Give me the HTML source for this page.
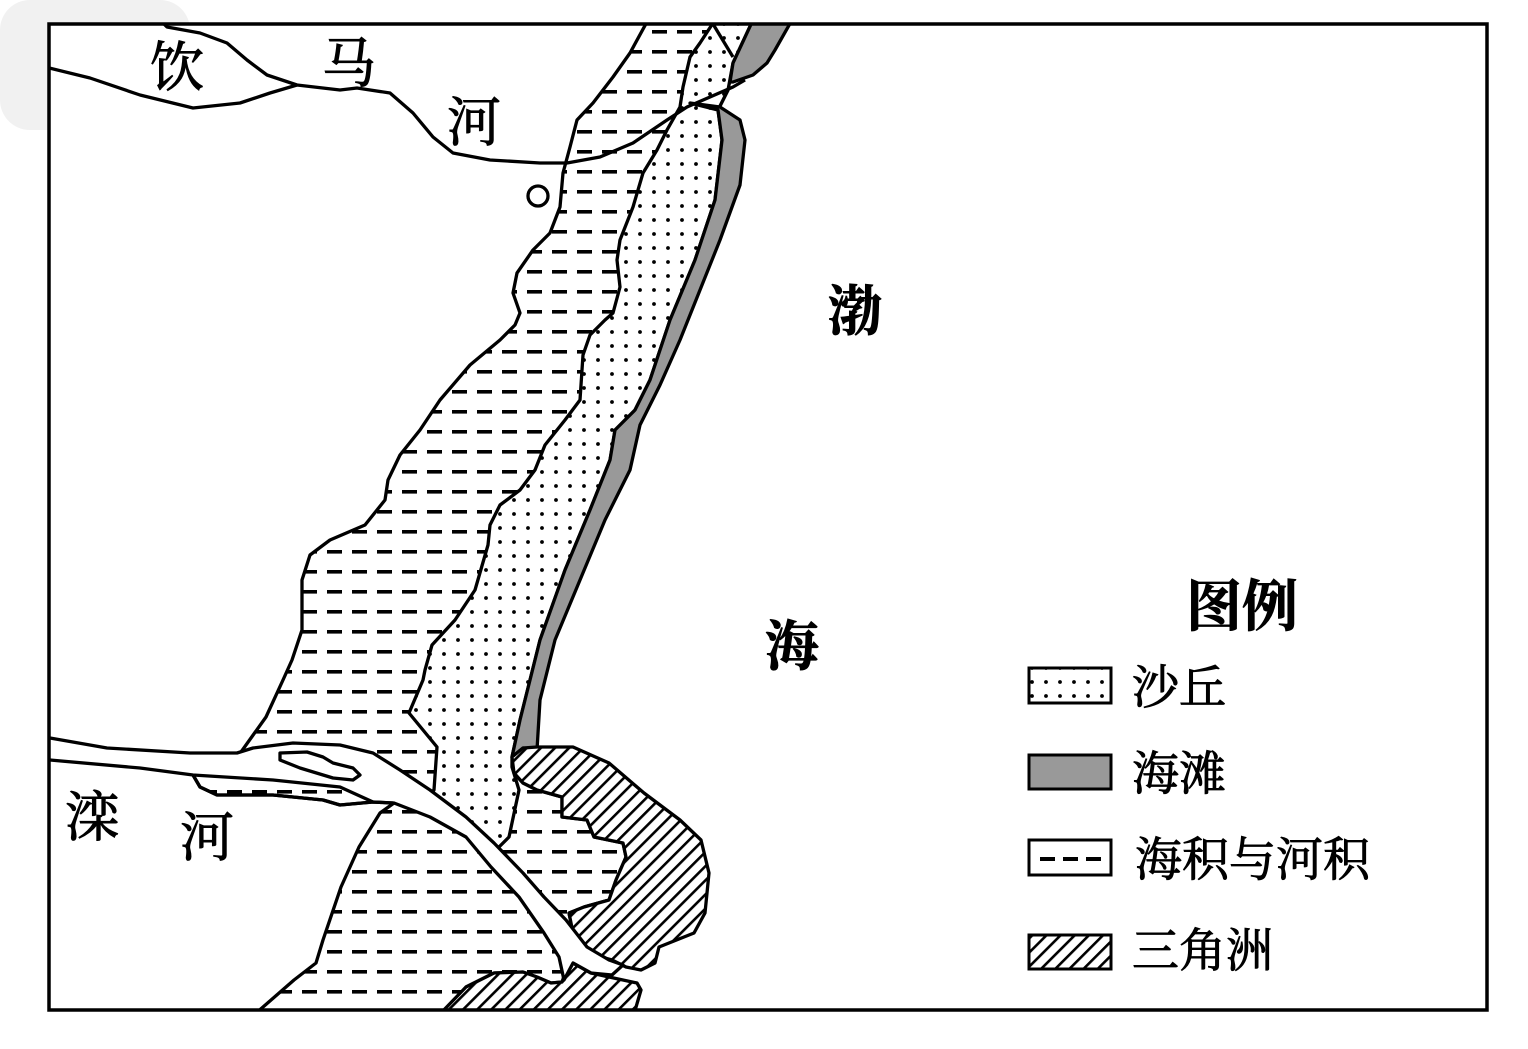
<!DOCTYPE html>
<html><head><meta charset="utf-8"><style>
html,body{margin:0;padding:0;background:#fff;}
svg{display:block;}
text{font-family:"Liberation Serif","Noto Serif CJK SC",serif;fill:#000;}
</style></head><body>
<svg width="1528" height="1049" viewBox="0 0 1528 1049" xmlns="http://www.w3.org/2000/svg">
<defs>
<pattern id="dash" width="25" height="20" patternUnits="userSpaceOnUse" x="2" y="2">
<rect x="0" y="0" width="25" height="20" fill="#fff"/>
<rect x="0" y="8" width="15" height="3.6" fill="#000"/></pattern>
<pattern id="dot" width="14" height="14" patternUnits="userSpaceOnUse" x="3" y="3">
<rect x="0" y="0" width="14" height="14" fill="#fff"/>
<circle cx="7" cy="7" r="1.9" fill="#000"/></pattern>
<pattern id="hatch" width="10" height="10" patternUnits="userSpaceOnUse" patternTransform="rotate(45)">
<rect x="0" y="0" width="10" height="10" fill="#fff"/><rect x="0" y="0" width="2.6" height="10" fill="#000"/></pattern>
<clipPath id="fr"><rect x="49" y="24" width="1438" height="986"/></clipPath>
</defs>
<rect width="1528" height="1049" fill="#fff"/>
<rect x="0" y="0" width="190" height="130" rx="30" fill="#f1f1f1"/>
<g clip-path="url(#fr)" stroke="#000" stroke-width="3.3" stroke-linejoin="round">
<rect x="49" y="24" width="1438" height="986" fill="#fff" stroke="none"/>
<polygon fill="url(#dash)" points="648,20 630,53 613,77 593,103 577,120 570,147 563,173 560,207 550,233 533,250 517,273 513,293 520,313 515,325 500,340 470,365 440,400 420,430 400,455 388,480 385,500 365,525 330,540 310,555 302,580 302,630 292,660 283,680 266,717 241,752 190,770 193,775 200,787 217,795 273,795 323,800 340,805 373,802 394,803 380,813 359,847 341,887 323,940 316,963 294,980 255,1014 444,1014 466,987 494,973 523,972 537,977 551,983 562,982 570,960 573,933 569,913 584,907 609,900 616,880 626,857 623,843 594,837 587,820 562,817 562,797 537,790 523,783 514,773 512,757 520,720 540,640 565,570 590,510 610,460 615,430 635,410 650,380 670,320 695,260 715,200 722,140 718,110 728,90 733,63 753,20"/>
<polygon fill="url(#dot)" points="715,20 700,43 690,57 683,87 680,107 667,130 657,150 643,173 633,207 620,240 617,260 620,287 613,313 605,320 590,335 583,355 580,400 565,420 545,445 535,470 520,490 500,505 490,525 488,545 475,590 455,620 432,645 425,670 423,680 409,713 437,747 434,790 430,793 466,820 498,848 509,837 519,790 512,767 512,757 520,720 540,640 565,570 590,510 610,460 615,430 635,410 650,380 670,320 695,260 715,200 722,140 718,110 728,90 733,63 753,20"/>
<path d="M713,24 L733,57" fill="none"/>
<polygon fill="#999" points="690,103 720,107 740,120 745,140 740,185 720,240 700,290 680,340 660,385 640,425 630,470 605,520 580,580 555,640 540,700 537,750 523,748 512,757 520,720 540,640 565,570 590,510 610,460 615,430 635,410 650,380 670,320 695,260 715,200 722,140 718,110"/>
<polygon fill="#999" points="753,20 792,20 775,50 767,63 753,75 733,82 730,82 733,63"/>
<polygon fill="url(#hatch)" points="512,757 523,748 537,747 573,747 609,763 644,793 680,820 701,840 709,873 705,913 694,933 659,947 655,963 641,970 626,967 612,960 587,953 573,933 569,913 584,907 609,900 616,880 626,857 623,843 594,837 587,820 562,817 562,797 537,790 523,783 514,773"/>
<polygon fill="url(#hatch)" points="440,1014 466,987 494,973 523,972 537,977 551,983 562,982 573,963 591,973 609,977 637,983 641,990 634,1014"/>
<polygon fill="#fff" points="40,737 50,738 107,748 190,753 237,753 253,748 293,743 340,745 373,753 400,770 430,790 466,817 494,843 523,873 544,897 566,920 587,947 609,960 623,965 612,975 591,973 573,963 564,980 559,957 544,933 519,897 491,867 466,837 430,817 394,803 373,802 340,787 273,780 193,775 140,768 50,760 40,760"/>
<polygon fill="#fff" points="280,753 307,752 323,757 333,763 353,768 360,775 353,780 333,778 300,768 280,760"/>
<path d="M193,775 L200,787 L217,795 L273,795 L323,800 L340,805 L373,802 L393,803" fill="none"/>
<path d="M160,20 L167,27 L200,33 L227,43 L247,60 L267,75 L297,85 L340,90 L357,88 L390,93 L413,113 L433,137 L453,153 L490,160 L540,163 L567,163 L600,157 L633,143 L667,120 L687,107 L733,87 L745,80" fill="none"/>
<path d="M45,67 L90,78 L140,95 L193,108 L240,103 L270,93 L297,85" fill="none"/>
<circle cx="538" cy="196" r="10" fill="#fff"/>
</g>
<rect x="49" y="24" width="1438" height="986" fill="none" stroke="#000" stroke-width="3.5"/>
<g font-size="54" stroke="#000" stroke-width="1">
<text x="150" y="86">饮</text>
<text x="322" y="82">马</text>
<text x="447" y="141">河</text>
<text x="828" y="330" font-weight="bold">渤</text>
<text x="765" y="665" font-weight="bold">海</text>
<text x="65" y="836">滦</text>
<text x="180" y="856">河</text>
</g>
<text x="1186" y="626" font-size="56" font-weight="bold" stroke="#000" stroke-width="0.8">图例</text>
<g stroke="#000" stroke-width="3">
<rect x="1029" y="668" width="82" height="35" fill="url(#dot)"/>
<rect x="1029" y="755" width="82" height="34" fill="#999"/>
<rect x="1029" y="840" width="82" height="35" fill="#fff"/>
<rect x="1029" y="935" width="82" height="34" fill="url(#hatch)"/>
</g>
<rect x="1040" y="857" width="15" height="4" fill="#000"/>
<rect x="1063" y="857" width="15" height="4" fill="#000"/>
<rect x="1086" y="857" width="15" height="4" fill="#000"/>
<g font-size="47" stroke="#000" stroke-width="0.9">
<text x="1132" y="704">沙丘</text>
<text x="1132" y="790">海滩</text>
<text x="1135" y="876">海积与河积</text>
<text x="1132" y="967">三角洲</text>
</g>
</svg>
</body></html>
